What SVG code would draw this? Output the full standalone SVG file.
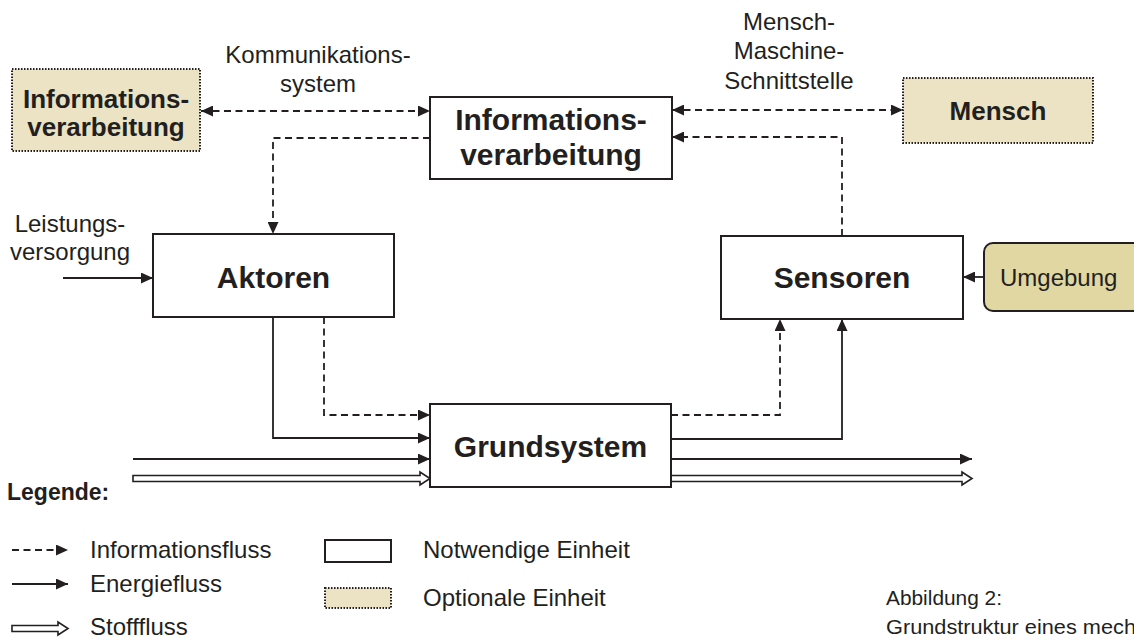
<svg xmlns="http://www.w3.org/2000/svg" width="1134" height="640" viewBox="0 0 1134 640">
<defs>
<marker id="ah" markerUnits="userSpaceOnUse" markerWidth="12" markerHeight="11" refX="12" refY="5.5" orient="auto-start-reverse">
<path d="M0,0 L12,5.5 L0,11 z" fill="#231f20"/>
</marker>
<style>
.box{fill:#fff;stroke:#231f20;stroke-width:2}
.opt{fill:#ebe3c4;stroke:#231f20;stroke-width:2;stroke-dasharray:1.5,1.5}
.env{fill:#e0d7a3;stroke:#231f20;stroke-width:2}
.info{fill:none;stroke:#231f20;stroke-width:1.8;stroke-dasharray:7,4.5}
.en{fill:none;stroke:#231f20;stroke-width:1.8}
.st{fill:#fff;stroke:#231f20;stroke-width:1.6}
.bl{font-family:"Liberation Sans",Arial,sans-serif;font-weight:bold;fill:#231f20;text-anchor:middle}
.rg{font-family:"Liberation Sans",Arial,sans-serif;fill:#231f20;font-size:24px}
.cap{font-family:"Liberation Sans Narrow","Liberation Sans",sans-serif;fill:#231f20;font-size:20px}
</style>
</defs>
<rect width="1134" height="640" fill="#fff"/>

<g id="connectors">
<path class="info" d="M201,111 H430" marker-start="url(#ah)" marker-end="url(#ah)"/>
<path class="info" d="M672,110 H903" marker-start="url(#ah)" marker-end="url(#ah)"/>
<path class="info" d="M430,138 H273 V234" marker-end="url(#ah)"/>
<path class="info" d="M842,236 V137 H672" marker-end="url(#ah)"/>
<path class="en" d="M63,278 H153" marker-end="url(#ah)"/>
<path class="en" d="M273,317 V438 H430" marker-end="url(#ah)"/>
<path class="info" d="M324,317 V415 H430" marker-end="url(#ah)"/>
<path class="en" d="M133,459 H430" marker-end="url(#ah)"/>
<path class="st" d="M133,475.5 H420 V472 L430,478.5 L420,485 V481.5 H133 Z"/>
<path class="info" d="M671,415 H780 V319" marker-end="url(#ah)"/>
<path class="en" d="M671,439 H842 V319" marker-end="url(#ah)"/>
<path class="en" d="M671,459 H972" marker-end="url(#ah)"/>
<path class="st" d="M671,475.5 H962 V472 L972,478.5 L962,485 V481.5 H671 Z"/>
<path class="en" d="M984,277 H963" marker-end="url(#ah)"/>
</g>

<g id="labels">
<text class="rg" x="318" y="63" text-anchor="middle">Kommunikations-</text>
<text class="rg" x="318" y="92" text-anchor="middle">system</text>
<text class="rg" x="789" y="30" text-anchor="middle">Mensch-</text>
<text class="rg" x="789" y="59" text-anchor="middle">Maschine-</text>
<text class="rg" x="789" y="89" text-anchor="middle">Schnittstelle</text>
<text class="rg" x="70" y="232" text-anchor="middle">Leistungs-</text>
<text class="rg" x="70" y="260" text-anchor="middle">versorgung</text>
</g>

<g id="node-iv-optional">
<rect class="opt" x="12" y="69" width="188" height="82"/>
<text class="bl" x="106" y="108" font-size="26">Informations-</text>
<text class="bl" x="106" y="136" font-size="26">verarbeitung</text>
</g>

<g id="node-iv">
<rect class="box" x="430" y="97" width="242" height="82"/>
<text class="bl" x="551" y="130" font-size="30">Informations-</text>
<text class="bl" x="551" y="165" font-size="30">verarbeitung</text>
</g>

<g id="node-mensch">
<rect class="opt" x="903" y="78" width="190" height="65"/>
<text class="bl" x="998" y="120" font-size="26">Mensch</text>
</g>

<g id="node-aktoren">
<rect class="box" x="153" y="234" width="241" height="83"/>
<text class="bl" x="273.5" y="288" font-size="30">Aktoren</text>
</g>

<g id="node-sensoren">
<rect class="box" x="721" y="236" width="242" height="83"/>
<text class="bl" x="842" y="288" font-size="30">Sensoren</text>
</g>

<g id="node-umgebung">
<rect class="env" x="984" y="243" width="170" height="68" rx="9"/>
<text class="rg" x="1000" y="286" font-size="26">Umgebung</text>
</g>

<g id="node-grundsystem">
<rect class="box" x="430" y="404" width="241" height="83"/>
<text class="bl" x="550.5" y="457" font-size="30">Grundsystem</text>
</g>

<g id="legend">
<text x="7" y="500" font-family="Liberation Sans, Arial, sans-serif" font-weight="bold" font-size="23" fill="#231f20">Legende:</text>
<path class="info" d="M12,550 H68" stroke-dasharray="5,4" marker-end="url(#ah)"/>
<text class="rg" x="90" y="558">Informationsfluss</text>
<path class="en" d="M12,584 H68" marker-end="url(#ah)"/>
<text class="rg" x="90" y="592">Energiefluss</text>
<path class="st" d="M12,625.5 H58 V622 L68,628.5 L58,635 V631.5 H12 Z"/>
<text class="rg" x="90" y="635">Stofffluss</text>
<rect class="box" x="325" y="540" width="66" height="22"/>
<text class="rg" x="423" y="558">Notwendige Einheit</text>
<rect class="opt" x="325" y="588" width="66" height="20"/>
<text class="rg" x="423" y="606">Optionale Einheit</text>
</g>

<g id="caption">
<text class="cap" x="886" y="605" textLength="116" lengthAdjust="spacingAndGlyphs">Abbildung 2:</text>
<text class="cap" x="886" y="634" textLength="250" lengthAdjust="spacingAndGlyphs">Grundstruktur eines mech</text>
</g>
</svg>
